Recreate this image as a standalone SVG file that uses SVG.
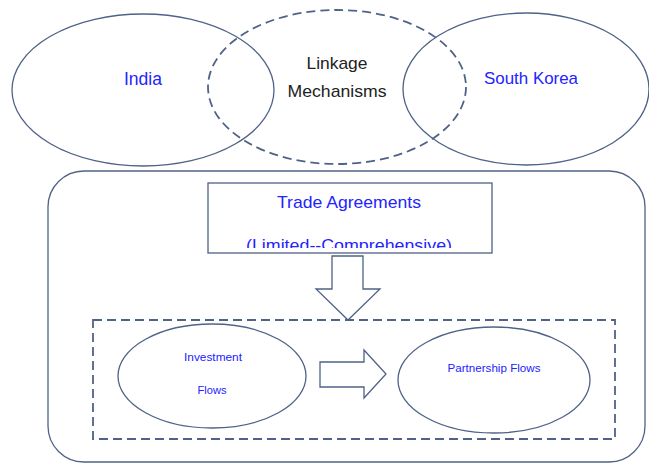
<svg xmlns="http://www.w3.org/2000/svg" width="649" height="464" viewBox="0 0 649 464">
<style>
.s{fill:none;stroke:#4f6287;stroke-width:1.3}
.d{fill:none;stroke:#4f6287;stroke-width:1.8;stroke-dasharray:9 5}
.b{fill:#2323ff;font-family:"Liberation Sans",Arial,sans-serif;text-anchor:middle}
.k{fill:#222;font-family:"Liberation Sans",Arial,sans-serif;text-anchor:middle}
</style>
<defs><clipPath id="tc"><rect x="208" y="183" width="284" height="65"/></clipPath></defs>
<rect width="649" height="464" fill="#fff"/>
<g id="india"><ellipse class="s" cx="143" cy="90" rx="131" ry="76"/><text class="b" x="143" y="85" font-size="17.5" textLength="38" lengthAdjust="spacingAndGlyphs">India</text></g>
<g id="southkorea"><ellipse class="s" cx="526" cy="89" rx="123" ry="76"/><text class="b" x="531" y="84" font-size="17" textLength="94" lengthAdjust="spacingAndGlyphs">South Korea</text></g>
<g id="linkage"><ellipse class="d" cx="337" cy="87" rx="129" ry="77"/><text class="k" x="337" y="69" font-size="17" textLength="61" lengthAdjust="spacingAndGlyphs">Linkage</text><text class="k" x="337" y="97" font-size="17" textLength="99" lengthAdjust="spacingAndGlyphs">Mechanisms</text></g>
<g id="container"><rect class="s" x="48" y="171" width="597" height="291" rx="36"/></g>
<g id="trade"><rect class="s" x="208" y="183" width="284" height="70" fill="#fff"/><g clip-path="url(#tc)"><text class="b" x="349" y="208" font-size="17" textLength="144" lengthAdjust="spacingAndGlyphs">Trade Agreements</text><text class="b" x="349" y="251" font-size="17" textLength="206" lengthAdjust="spacingAndGlyphs">(Limited--Comprehensive)</text></g></g>
<g id="flows"><rect class="d" x="93" y="320" width="522" height="119"/></g>
<g id="investment"><ellipse class="s" cx="212" cy="376" rx="94" ry="52"/><text class="b" x="213" y="361" font-size="11.5" textLength="58" lengthAdjust="spacingAndGlyphs">Investment</text><text class="b" x="212" y="394" font-size="11.5" textLength="29" lengthAdjust="spacingAndGlyphs">Flows</text></g>
<g id="partnership"><ellipse class="s" cx="494" cy="380" rx="96" ry="53"/><text class="b" x="494" y="372" font-size="11.5" textLength="93" lengthAdjust="spacingAndGlyphs">Partnership Flows</text></g>
<g id="connectors">
<path class="s" fill="#fff" d="M332,256 H363 V289 H380 L348,320 L316,289 H332 Z"/>
<path class="s" fill="#fff" d="M320,362 H364 V350 L386,374 L364,398 V387 H320 Z"/>
</g>
</svg>
